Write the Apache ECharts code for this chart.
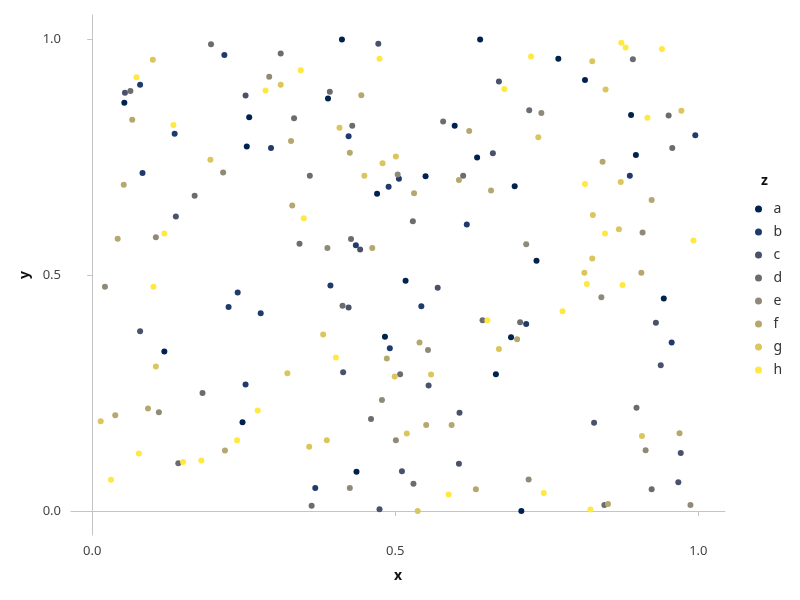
<!DOCTYPE html>
<html>
<head>
<meta charset="utf-8">
<script src="https://cdn.jsdelivr.net/npm/echarts@6/dist/echarts.min.js"></script>
<style>html,body{margin:0;padding:0;background:#fff}#chart{width:800px;height:600px}</style>
</head>
<body>
<div id="chart"></div>
<script>
const categories = ["a","b","c","d","e","f","g","h"];
const colors = ["#00224e","#1f3b6e","#4a516b","#6b6c70","#8f8a78","#b5a86f","#dbc55c","#fee841"];
const xTicks = [0, 0.5, 1];
const yTicks = [0, 0.5, 1];

const a = [[0.053,0.865],[0.412,0.999],[0.389,0.874],[0.259,0.834],[0.255,0.772],[0.470,0.672],[0.640,0.999],[0.769,0.958],[0.598,0.816],[0.635,0.749],[0.550,0.709],[0.697,0.688],[0.813,0.913],[0.889,0.839],[0.897,0.754],[0.119,0.338],[0.517,0.488],[0.483,0.369],[0.733,0.530],[0.691,0.368],[0.943,0.450],[0.248,0.188],[0.436,0.083],[0.666,0.290],[0.708,0.000]];
const b = [[0.218,0.966],[0.079,0.903],[0.136,0.799],[0.083,0.716],[0.423,0.794],[0.295,0.769],[0.506,0.704],[0.489,0.687],[0.995,0.796],[0.887,0.710],[0.240,0.463],[0.225,0.432],[0.435,0.563],[0.393,0.478],[0.278,0.419],[0.491,0.345],[0.618,0.607],[0.543,0.434],[0.716,0.396],[0.956,0.357],[0.253,0.268],[0.368,0.049]];
const c = [[0.054,0.886],[0.472,0.990],[0.253,0.880],[0.671,0.910],[0.661,0.758],[0.138,0.624],[0.079,0.381],[0.442,0.554],[0.423,0.431],[0.570,0.473],[0.930,0.399],[0.414,0.294],[0.511,0.084],[0.474,0.004],[0.555,0.266],[0.606,0.208],[0.605,0.100],[0.938,0.309],[0.828,0.187],[0.971,0.123],[0.967,0.061]];
const d = [[0.196,0.989],[0.063,0.890],[0.169,0.668],[0.311,0.969],[0.392,0.888],[0.333,0.832],[0.429,0.816],[0.359,0.710],[0.721,0.849],[0.579,0.825],[0.612,0.710],[0.892,0.957],[0.951,0.838],[0.957,0.769],[0.342,0.566],[0.427,0.576],[0.413,0.435],[0.529,0.614],[0.644,0.404],[0.706,0.400],[0.182,0.250],[0.142,0.101],[0.508,0.290],[0.460,0.195],[0.362,0.011],[0.530,0.058],[0.898,0.219],[0.923,0.046],[0.845,0.013]];
const e = [[0.216,0.717],[0.292,0.920],[0.504,0.713],[0.741,0.843],[0.105,0.580],[0.021,0.475],[0.388,0.557],[0.716,0.565],[0.554,0.341],[0.908,0.590],[0.840,0.453],[0.110,0.209],[0.478,0.235],[0.501,0.150],[0.425,0.049],[0.720,0.067],[0.913,0.129],[0.987,0.013]];
const f = [[0.066,0.829],[0.052,0.691],[0.444,0.881],[0.328,0.784],[0.425,0.759],[0.622,0.805],[0.605,0.701],[0.531,0.673],[0.658,0.679],[0.842,0.740],[0.923,0.659],[0.042,0.577],[0.330,0.647],[0.462,0.557],[0.486,0.323],[0.701,0.364],[0.540,0.357],[0.906,0.505],[0.092,0.217],[0.038,0.203],[0.219,0.128],[0.551,0.182],[0.593,0.182],[0.633,0.046],[0.969,0.165],[0.851,0.015]];
const g = [[0.100,0.956],[0.195,0.744],[0.311,0.903],[0.408,0.812],[0.501,0.751],[0.479,0.737],[0.449,0.710],[0.736,0.792],[0.825,0.953],[0.847,0.893],[0.972,0.848],[0.872,0.697],[0.105,0.306],[0.381,0.374],[0.671,0.343],[0.826,0.627],[0.869,0.597],[0.825,0.535],[0.812,0.505],[0.014,0.190],[0.322,0.292],[0.499,0.285],[0.387,0.150],[0.358,0.136],[0.559,0.289],[0.519,0.164],[0.537,0.000],[0.907,0.159]];
const h = [[0.073,0.919],[0.134,0.818],[0.474,0.958],[0.344,0.934],[0.286,0.891],[0.724,0.963],[0.680,0.894],[0.873,0.992],[0.880,0.982],[0.940,0.979],[0.916,0.833],[0.813,0.693],[0.119,0.588],[0.101,0.475],[0.349,0.620],[0.402,0.325],[0.652,0.404],[0.776,0.423],[0.846,0.588],[0.992,0.573],[0.816,0.481],[0.875,0.479],[0.239,0.150],[0.077,0.122],[0.150,0.104],[0.180,0.107],[0.031,0.066],[0.273,0.213],[0.588,0.035],[0.745,0.038],[0.822,0.003]];

const seriesData = [a,b,c,d,e,f,g,h];
const FONT = "Noto Sans";
const axisCol = "#c4c4c4";

const chart = echarts.init(document.getElementById('chart'), null, {renderer:'canvas'});
chart.setOption({
  animation: false,
  backgroundColor: '#ffffff',
  color: colors,
  grid: {left: 71, right: 75, top: 15, bottom: 65, containLabel: false},
  xAxis: {
    type: 'value', min: -0.035, max: 1.044,
    name: 'x', nameLocation: 'middle', nameGap: 34,
    nameTextStyle: {fontFamily: FONT, fontSize: 14, fontWeight: 'bold', color: '#111'},
    axisLine: {show: true, lineStyle: {color: axisCol, width: 1}},
    axisTick: {show: true, length: 5, lineStyle: {color: axisCol}, customValues: xTicks},
    axisLabel: {fontFamily: FONT, fontSize: 13, color: '#444', margin: 10, customValues: xTicks, formatter: v => v.toFixed(1)},
    splitLine: {show: false}
  },
  yAxis: {
    type: 'value', min: -0.0508, max: 1.0508,
    name: 'y', nameLocation: 'middle', nameGap: 36, nameRotate: 90,
    nameTextStyle: {fontFamily: FONT, fontSize: 14, fontWeight: 'bold', color: '#111'},
    axisLine: {show: true, lineStyle: {color: axisCol, width: 1}},
    axisTick: {show: true, length: 5, lineStyle: {color: axisCol}, customValues: yTicks},
    axisLabel: {fontFamily: FONT, fontSize: 13, color: '#444', margin: 10, customValues: yTicks, formatter: v => v.toFixed(1)},
    splitLine: {show: false}
  },
  legend: {
    orient: 'vertical', left: 750, top: 197,
    icon: 'circle', itemWidth: 20, itemHeight: 7, itemGap: 9,
    data: categories,
    textStyle: {fontFamily: FONT, fontSize: 14, color: '#333', lineHeight: 14}
  },
  graphic: [{
    type: 'text', left: 761, top: 174,
    style: {text: 'z', fontFamily: FONT, fontSize: 14, fontWeight: 'bold', fill: '#111'}
  }],
  series: categories.map((name, i) => ({
    name: name, type: 'scatter', data: seriesData[i],
    symbol: 'circle', symbolSize: 6,
    itemStyle: {color: colors[i], opacity: 1}
  }))
});
</script>
</body>
</html>
